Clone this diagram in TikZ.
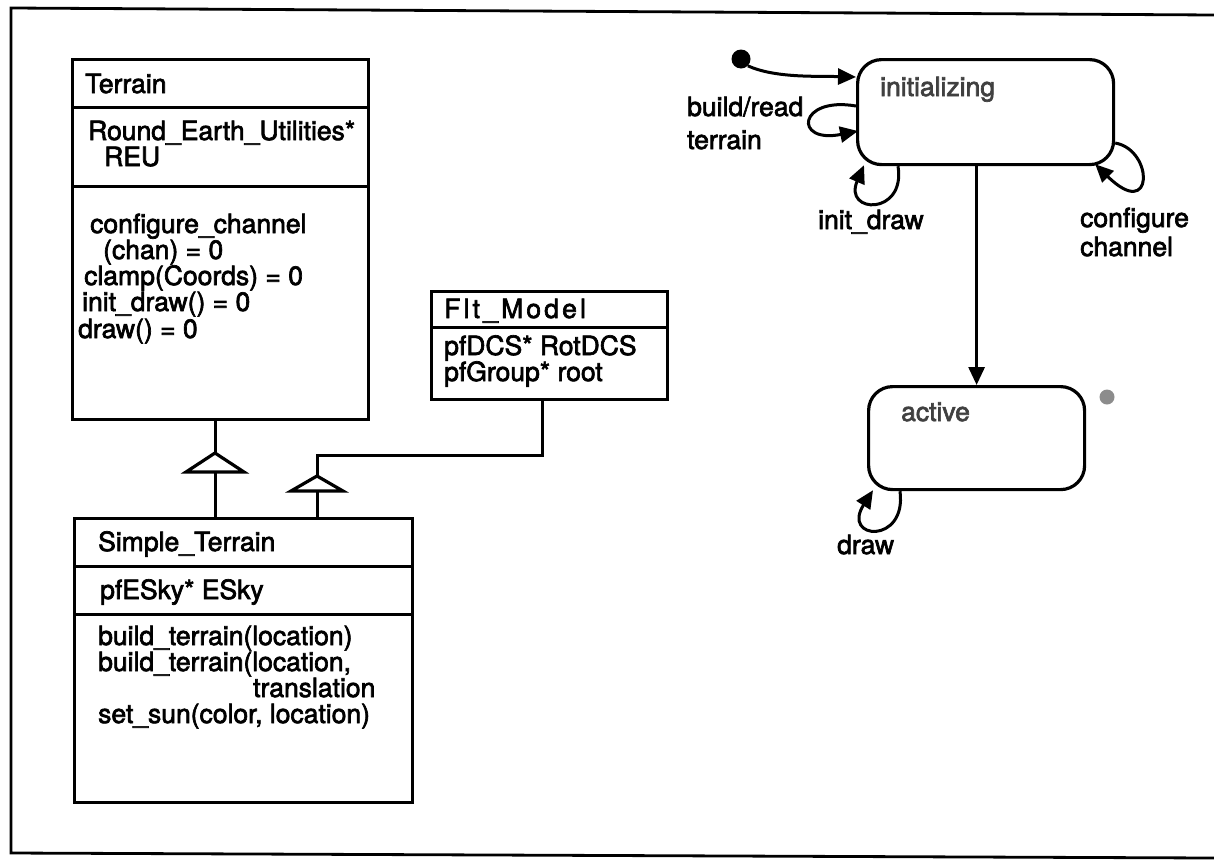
\documentclass[tikz,border=0pt]{standalone}
\usepackage{fontspec}
\setmainfont[FakeBold=2.5]{TeX Gyre Heros}
\newfontfamily\spacedfont[LetterSpace=12,FakeBold=2.5]{TeX Gyre Heros}
\usetikzlibrary{arrows.meta,calc}
\begin{document}
\begin{tikzpicture}[x=1pt,y=-1pt,
  every node/.style={inner sep=0pt},
  txt/.style={anchor=base west, font=\fontsize{26.5}{28}\selectfont},
  gtxt/.style={txt, text=black!75},
  cls/.style={draw, line width=3.2pt, anchor=north west},
  sep/.style={line width=3pt},
  link/.style={line width=3pt},
  tri/.style={line width=3.2pt, fill=white, line join=miter},
  state/.style={draw, line width=3.2pt, rounded corners=24pt, anchor=north west},
  trans/.style={line width=3pt, -{Triangle[length=18pt,width=16pt]}},
  frame/.style={line width=2.8pt}
]
\useasboundingbox (0,0) rectangle (1214,860);

% outer frame (open on the right)
\draw[frame] (1214,15) -- (11,8) -- (11,853) -- (1214,858);

% ---------- class Terrain ----------
\node[cls, minimum width=296pt, minimum height=360pt] (terrain) at (71,58) {};
\draw[sep] (71,107) -- (367,107);
\draw[sep] (71,186) -- (367,186);
\node[txt] (tname) at (85,93) {Terrain};
\node[txt] (tattr1) at (88,140) {Round\_Earth\_Utilities*};
\node[txt] (tattr2) at (104,166) {REU};
\node[txt] (tm1) at (90,233) {configure\_channel};
\node[txt] (tm2) at (103,259) {(chan) = 0};
\node[txt] (tm3) at (84,285) {clamp(Coords) = 0};
\node[txt] (tm4) at (82,311) {init\_draw() = 0};
\node[txt] (tm5) at (78,338) {draw() = 0};

% ---------- class Flt_Model ----------
\node[cls, minimum width=236pt, minimum height=108pt] (flt) at (430,290) {};
\draw[sep] (430,327) -- (666,327);
\node[txt, font=\fontsize{26.5}{28}\spacedfont] (fname) at (444,318) {Flt\_Model};
\node[txt] (fattr1) at (444,355) {pfDCS* RotDCS};
\node[txt] (fattr2) at (444,381) {pfGroup* root};

% ---------- class Simple_Terrain ----------
\node[cls, minimum width=338pt, minimum height=284pt] (simple) at (73,517) {};
\draw[sep] (73,566) -- (411,566);
\draw[sep] (73,614) -- (411,614);
\node[txt] (sname) at (98,551) {Simple\_Terrain};
\node[txt] (sattr) at (100,599) {pfESky* ESky};
\node[txt] (sm1) at (98,645) {build\_terrain(location)};
\node[txt] (sm2) at (98,671) {build\_terrain(location,};
\node[txt] (sm3) at (253,697) {translation};
\node[txt] (sm4) at (98,723) {set\_sun(color, location)};

% ---------- generalisation Terrain <- Simple_Terrain ----------
\coordinate (t1) at (215,453);
\coordinate (t1b) at (215,472);
\draw[link] (terrain.south -| t1) -- (t1);
\draw[link] (t1b) -- (simple.north -| t1b);
\draw[tri] (t1) -- (186,472) -- (244,472) -- cycle;

% ---------- generalisation Flt_Model <- Simple_Terrain ----------
\coordinate (t2) at (317,476);
\coordinate (t2b) at (317,491);
\coordinate (bend) at (317,455);
\draw[link] ([xshift=-7pt]flt.south) |- (bend) -- (t2);
\draw[link] (t2b) -- (simple.north -| t2b);
\draw[tri] (t2) -- (291,491) -- (343,491) -- cycle;

% ---------- state machine ----------
\node[state, minimum width=256pt, minimum height=105pt] (init) at (856,58) {};
\node[gtxt] (initlbl) at (880,96) {initializing};
\node[state, minimum width=216pt, minimum height=103pt] (active) at (867,385) {};
\node[gtxt] (activelbl) at (901,421) {active};

\node[circle, fill=black, minimum size=19pt] (start) at (741,59) {};
\node[circle, fill=black!45, minimum size=15pt] (greydot) at (1107,397) {};

\draw[trans] (start.south east) .. controls (775,78) and (815,76) .. ([yshift=-19pt]init.north west);

\draw[trans] ([yshift=-48pt]init.north west) .. controls (798,96) and (793,144) .. ([yshift=-73pt,xshift=2pt]init.north west);
\node[txt] (bl1) at (687,116) {build/read};
\node[txt] (bl2) at (687,149) {terrain};

\draw[trans] ([xshift=42pt]init.south west) .. controls (906,216) and (843,214) .. ([xshift=8pt,yshift=1pt]init.south west);
\node[txt] (idl) at (818,229) {init\_draw};

\draw[trans] ([yshift=-85pt]init.north east) .. controls (1154,150) and (1154,222) .. ([xshift=-20pt,yshift=2pt]init.south east);
\node[txt] (cc1) at (1080,227) {configure};
\node[txt] (cc2) at (1080,256) {channel};

\draw[trans] (active.north |- init.south) -- (active.north);

\draw[trans] ([xshift=33pt]active.south west) .. controls (907,545) and (841,540) .. ([xshift=6pt,yshift=1pt]active.south west);
\node[txt] (dl) at (837,554) {draw};

\end{tikzpicture}
\end{document}
